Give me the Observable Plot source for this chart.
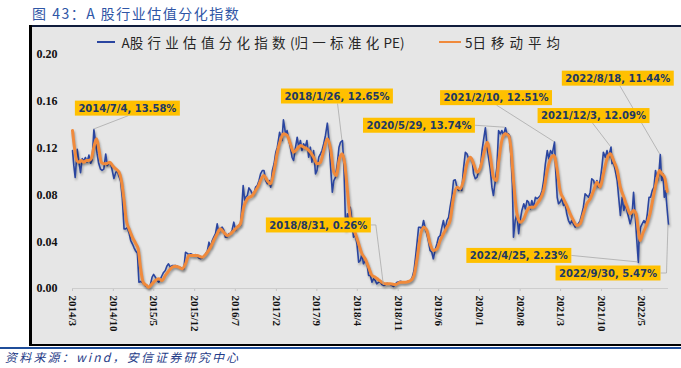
<!DOCTYPE html>
<html><head><meta charset="utf-8">
<script src="https://cdn.jsdelivr.net/npm/d3@7"></script>
<script src="https://cdn.jsdelivr.net/npm/@observablehq/plot@0.6"></script>
<style>
body{margin:0;width:681px;height:368px;position:relative;background:#fff;overflow:hidden;font-family:"Noto Sans CJK SC",sans-serif}
#title{position:absolute;left:32px;top:3px;font-size:14px;letter-spacing:1.5px;color:#2f56a6;line-height:20px;white-space:nowrap}
#chart{position:absolute;left:30px;top:26px;width:651px;height:319px}
.hl{position:absolute}
#legend{position:absolute;left:0;top:32px;width:681px;height:20px;font-size:13.5px;color:#262626;line-height:20px}
#legend .sw{position:absolute}
#legend .tx{position:absolute;top:0;white-space:nowrap}
#source{position:absolute;left:5px;top:349px;font-size:12px;font-style:italic;color:#1f3c88;letter-spacing:2.2px;white-space:nowrap;line-height:16px}
g[aria-label^="x-axis"] text{font:bold 11px "Liberation Serif",serif;fill:#111}
g[aria-label^="y-axis"] text{font:bold 12px "Liberation Serif",serif;fill:#111}
g[aria-label^="x-axis"] path,g[aria-label^="x-axis"] line{stroke:#c4c4c4}
</style>
</head><body>
<div id="title">图 43：A 股行业估值分化指数</div>
<div id="chart"></div>
<div class="hl" style="left:30px;top:25px;width:651px;height:2px;background:#101c3c"></div>
<div class="hl" style="left:29px;top:25px;width:3px;height:321px;background:#000"></div>
<div class="hl" style="left:30px;top:344px;width:651px;height:2px;background:#000"></div>
<div class="hl" style="left:0;top:347px;width:681px;height:2px;background:#1f4e9a"></div>
<div id="legend"></div>
<div id="source">资料来源：wind，安信证券研究中心</div>
<script>
// A股行业估值分化指数 (归一标准化PE)
const indexSeries = [
["2014-03-14",0.118],["2014-03-21",0.105],["2014-03-28",0.095],["2014-04-08",0.119],["2014-04-16",0.109],["2014-04-25",0.099],["2014-05-04",0.111],["2014-05-12",0.109],["2014-05-21",0.112],["2014-05-29",0.108],["2014-06-08",0.114],["2014-06-17",0.107],["2014-06-25",0.110],["2014-07-04",0.1358],["2014-07-12",0.1265],["2014-07-21",0.115],["2014-07-29",0.107],["2014-08-08",0.102],["2014-08-16",0.101],["2014-08-25",0.102],["2014-09-04",0.115],["2014-09-12",0.105],["2014-09-20",0.107],["2014-09-29",0.107],["2014-10-08",0.101],["2014-10-17",0.094],["2014-10-26",0.099],["2014-11-04",0.101],["2014-11-12",0.096],["2014-11-21",0.092],["2014-11-30",0.077],["2014-12-09",0.051],["2014-12-18",0.051],["2014-12-26",0.052],
["2015-01-05",0.047],["2015-01-13",0.041],["2015-01-22",0.038],["2015-01-30",0.035],["2015-02-08",0.032],["2015-02-17",0.030],["2015-02-25",0.0054],["2015-03-05",0.006],["2015-03-13",0.0054],["2015-03-22",0.004],["2015-03-30",0.0026],["2015-04-08",0.0017],["2015-04-17",0.0011],["2015-04-25",0.0026],["2015-05-05",0.0097],["2015-05-13",0.012],["2015-05-22",0.0097],["2015-05-31",0.007],["2015-06-09",0.0054],["2015-06-17",0.008],["2015-06-26",0.0111],["2015-07-04",0.0137],["2015-07-13",0.0154],["2015-07-21",0.019],["2015-07-30",0.0211],["2015-08-09",0.018],["2015-08-18",0.0197],["2015-08-27",0.0197],["2015-09-05",0.0197],["2015-09-14",0.019],["2015-09-22",0.0182],["2015-10-01",0.018],["2015-10-10",0.0168],["2015-10-18",0.0168],["2015-10-27",0.031],["2015-11-05",0.030],["2015-11-14",0.029],["2015-11-23",0.0297],["2015-12-01",0.029],["2015-12-10",0.028],["2015-12-19",0.029],["2015-12-27",0.0282],
["2016-01-05",0.026],["2016-01-14",0.0254],["2016-01-22",0.026],["2016-02-01",0.028],["2016-02-10",0.0297],["2016-02-18",0.032],["2016-02-27",0.0396],["2016-03-06",0.0353],["2016-03-15",0.041],["2016-03-23",0.044],["2016-04-01",0.0468],["2016-04-10",0.0553],["2016-04-18",0.0481],["2016-04-27",0.051],["2016-05-06",0.0524],["2016-05-14",0.050],["2016-05-23",0.0438],["2016-06-01",0.044],["2016-06-10",0.047],["2016-06-19",0.0468],["2016-06-27",0.050],["2016-07-06",0.0567],["2016-07-15",0.0496],["2016-07-23",0.052],["2016-08-01",0.054],["2016-08-10",0.0538],["2016-08-19",0.0752],["2016-08-24",0.0880],["2016-09-01",0.0752],["2016-09-06",0.078],["2016-09-15",0.0795],["2016-09-23",0.086],["2016-10-02",0.0838],["2016-10-11",0.0809],["2016-10-19",0.0809],["2016-10-28",0.0866],["2016-11-06",0.088],["2016-11-15",0.0923],["2016-11-23",0.098],["2016-12-03",0.1009],["2016-12-11",0.1009],["2016-12-20",0.0923],["2016-12-29",0.0895],
["2017-01-07",0.0923],["2017-01-15",0.0866],["2017-01-24",0.1009],["2017-02-02",0.1066],["2017-02-11",0.1165],["2017-02-19",0.1208],["2017-03-03",0.1336],["2017-03-15",0.1265],["2017-03-23",0.1442],["2017-04-03",0.1322],["2017-04-11",0.135],["2017-04-19",0.1279],["2017-04-28",0.1208],["2017-05-07",0.1122],["2017-05-15",0.1094],["2017-05-24",0.1194],["2017-06-03",0.1293],["2017-06-11",0.1208],["2017-06-20",0.1265],["2017-06-28",0.1179],["2017-07-07",0.1237],["2017-07-15",0.1208],["2017-07-24",0.1265],["2017-08-02",0.1122],["2017-08-11",0.1208],["2017-08-19",0.1079],["2017-08-28",0.1179],["2017-09-07",0.098],["2017-09-15",0.1009],["2017-09-24",0.1122],["2017-10-03",0.1151],["2017-10-11",0.1179],["2017-10-20",0.1237],["2017-10-29",0.1308],["2017-11-08",0.1413],["2017-11-16",0.1279],["2017-11-25",0.1037],["2017-12-04",0.0823],["2017-12-12",0.0923],["2017-12-21",0.0951],["2017-12-30",0.1066],
["2018-01-08",0.1208],["2018-01-16",0.125],["2018-01-26",0.1265],["2018-02-03",0.1037],["2018-02-12",0.0496],["2018-02-21",0.0638],["2018-02-27",0.0609],["2018-03-08",0.0695],["2018-03-16",0.0581],["2018-03-25",0.0438],["2018-04-04",0.0453],["2018-04-12",0.0382],["2018-04-21",0.0225],["2018-04-30",0.0239],["2018-05-08",0.0297],["2018-05-16",0.0211],["2018-05-25",0.0239],["2018-06-04",0.0211],["2018-06-12",0.0111],["2018-06-21",0.0111],["2018-06-30",0.0054],["2018-07-08",0.0083],["2018-07-17",0.0068],["2018-07-25",0.004],["2018-08-04",0.0054],["2018-08-13",0.0054],["2018-08-21",0.0034],["2018-08-31",0.0026],["2018-09-08",0.0032],["2018-09-16",0.0045],["2018-10-04",0.0034],["2018-10-21",0.0017],["2018-10-31",0.004],["2018-11-09",0.0054],["2018-11-26",0.0062],["2018-12-13",0.0054],["2018-12-31",0.006],
["2019-01-18",0.0068],["2019-01-27",0.0097],["2019-02-05",0.0154],["2019-02-13",0.0268],["2019-02-22",0.041],["2019-03-01",0.0524],["2019-03-09",0.0524],["2019-03-18",0.051],["2019-03-27",0.0581],["2019-04-05",0.051],["2019-04-13",0.0468],["2019-04-22",0.040],["2019-04-30",0.0325],["2019-05-09",0.031],["2019-05-17",0.0254],["2019-05-26",0.0325],["2019-06-05",0.0382],["2019-06-13",0.0438],["2019-06-22",0.0453],["2019-07-01",0.0524],["2019-07-09",0.0581],["2019-07-18",0.0496],["2019-07-27",0.0581],["2019-08-05",0.0609],["2019-08-13",0.0695],["2019-08-22",0.078],["2019-08-31",0.0923],["2019-09-09",0.0929],["2019-09-18",0.0866],["2019-09-26",0.0838],["2019-10-05",0.0852],["2019-10-13",0.0838],["2019-10-22",0.1023],["2019-11-01",0.1165],["2019-11-09",0.1151],["2019-11-18",0.1109],["2019-11-27",0.1122],["2019-12-06",0.1109],["2019-12-14",0.098],["2019-12-23",0.0938],
["2020-01-01",0.0951],["2020-01-10",0.1009],["2020-01-19",0.1037],["2020-01-27",0.1179],["2020-02-05",0.1279],["2020-02-14",0.1374],["2020-02-23",0.1208],["2020-03-01",0.1122],["2020-03-10",0.1023],["2020-03-19",0.0866],["2020-03-27",0.0795],["2020-04-06",0.0923],["2020-04-14",0.1037],["2020-04-23",0.135],["2020-05-02",0.1322],["2020-05-10",0.135],["2020-05-19",0.1308],["2020-05-29",0.1374],["2020-06-06",0.1322],["2020-06-14",0.1322],["2020-06-19",0.1308],["2020-06-26",0.1151],["2020-07-04",0.0895],["2020-07-10",0.0438],["2020-07-19",0.0581],["2020-07-28",0.0638],["2020-08-06",0.0468],["2020-08-14",0.0581],["2020-08-23",0.0667],["2020-09-02",0.0724],["2020-09-10",0.0681],["2020-09-19",0.0752],["2020-09-27",0.0738],["2020-10-06",0.0681],["2020-10-14",0.0752],["2020-10-23",0.0695],["2020-11-02",0.078],["2020-11-10",0.0767],["2020-11-19",0.078],["2020-11-28",0.0795],["2020-12-07",0.0838],["2020-12-15",0.0923],["2020-12-24",0.1066],
["2021-01-03",0.1179],["2021-01-11",0.1109],["2021-01-20",0.1179],["2021-01-29",0.1151],["2021-02-10",0.1251],["2021-02-15",0.1037],["2021-02-24",0.078],["2021-03-03",0.0724],["2021-03-11",0.0738],["2021-03-20",0.0767],["2021-03-29",0.0709],["2021-04-07",0.0724],["2021-04-15",0.0638],["2021-04-24",0.0581],["2021-05-03",0.0553],["2021-05-11",0.0581],["2021-05-20",0.0553],["2021-05-29",0.0524],["2021-06-07",0.0538],["2021-06-15",0.0553],["2021-06-24",0.0581],["2021-07-03",0.0638],["2021-07-11",0.0695],["2021-07-20",0.0809],["2021-07-29",0.0795],["2021-08-07",0.078],["2021-08-16",0.0823],["2021-08-24",0.0938],["2021-09-03",0.0923],["2021-09-11",0.0866],["2021-09-20",0.0923],["2021-09-28",0.0866],["2021-10-07",0.0923],["2021-10-16",0.1037],["2021-10-24",0.1165],["2021-11-03",0.1122],["2021-11-12",0.1179],["2021-11-20",0.1122],["2021-12-03",0.1209],["2021-12-08",0.1066],["2021-12-16",0.1079],["2021-12-25",0.1009],
["2022-01-04",0.0923],["2022-01-12",0.078],["2022-01-21",0.0624],["2022-01-30",0.078],["2022-02-08",0.0667],["2022-02-17",0.0724],["2022-02-26",0.0652],["2022-03-05",0.0609],["2022-03-13",0.0553],["2022-03-22",0.0609],["2022-03-31",0.0823],["2022-04-08",0.0638],["2022-04-17",0.041],["2022-04-25",0.0223],["2022-04-29",0.0438],["2022-05-07",0.0524],["2022-05-15",0.0553],["2022-05-24",0.0581],["2022-06-03",0.0553],["2022-06-11",0.0638],["2022-06-20",0.078],["2022-06-28",0.078],["2022-07-07",0.0838],["2022-07-16",0.0866],["2022-07-24",0.1009],["2022-08-03",0.0923],["2022-08-10",0.097],["2022-08-18",0.1144],["2022-08-25",0.0923],["2022-09-01",0.098],["2022-09-08",0.078],["2022-09-15",0.0838],["2022-09-22",0.0695],["2022-09-30",0.0547]
];
// 5日移动平均
const ma5Series = [
["2014-03-14",0.135],["2014-03-24",0.1208],["2014-04-05",0.1094],["2014-04-16",0.1079],["2014-04-29",0.1094],["2014-05-12",0.1079],["2014-05-26",0.1094],["2014-06-08",0.1094],["2014-06-20",0.1109],["2014-07-04",0.1208],["2014-07-18",0.1279],["2014-07-30",0.1194],["2014-08-12",0.1079],["2014-08-25",0.1066],["2014-09-13",0.1071],["2014-09-26",0.1079],["2014-10-09",0.1051],["2014-10-26",0.1023],["2014-11-13",0.0994],["2014-11-25",0.0923],["2014-12-09",0.0752],["2014-12-21",0.0581],
["2015-01-04",0.051],["2015-01-22",0.0438],["2015-02-09",0.0382],["2015-02-21",0.0339],["2015-03-05",0.0182],["2015-03-19",0.0054],["2015-04-06",0.0026],["2015-04-17",0.0011],["2015-05-05",0.004],["2015-05-22",0.0068],["2015-06-09",0.0083],["2015-06-26",0.0068],["2015-07-13",0.0111],["2015-07-30",0.0148],["2015-08-18",0.0182],["2015-09-05",0.0191],["2015-09-22",0.0182],["2015-10-10",0.0168],["2015-10-27",0.0211],["2015-11-14",0.0282],["2015-12-01",0.0282],["2015-12-27",0.0282],
["2016-01-22",0.0268],["2016-02-18",0.031],["2016-03-06",0.0353],["2016-03-23",0.041],["2016-04-10",0.0468],["2016-04-27",0.051],["2016-05-14",0.0481],["2016-06-02",0.0453],["2016-06-19",0.0468],["2016-07-06",0.0496],["2016-07-23",0.0524],["2016-08-10",0.0553],["2016-08-27",0.0695],["2016-09-15",0.0767],["2016-10-11",0.0795],["2016-10-28",0.0838],["2016-11-15",0.0889],["2016-11-23",0.0923],["2016-12-11",0.0966],["2016-12-28",0.0923],
["2017-01-15",0.0895],["2017-02-02",0.1009],["2017-02-19",0.1165],["2017-03-07",0.1265],["2017-03-23",0.1322],["2017-04-11",0.1308],["2017-04-28",0.1237],["2017-05-15",0.1165],["2017-06-03",0.1194],["2017-06-20",0.1222],["2017-07-07",0.1208],["2017-07-24",0.1194],["2017-08-11",0.1165],["2017-08-28",0.1122],["2017-09-15",0.1066],["2017-10-03",0.1079],["2017-10-20",0.1179],["2017-11-08",0.1279],["2017-11-25",0.1194],["2017-12-12",0.0994],["2017-12-26",0.0966],
["2018-01-08",0.1094],["2018-01-25",0.1151],["2018-02-07",0.1066],["2018-02-21",0.0838],["2018-03-05",0.0638],["2018-03-16",0.0553],["2018-04-04",0.0468],["2018-04-21",0.0382],["2018-05-08",0.0297],["2018-05-25",0.0254],["2018-06-12",0.0182],["2018-06-30",0.0111],["2018-07-17",0.0097],["2018-08-04",0.0074],["2018-08-21",0.0054],["2018-09-08",0.004],["2018-10-04",0.004],["2018-10-31",0.0034],["2018-11-26",0.0054],["2018-12-22",0.0054],
["2019-01-18",0.0068],["2019-02-05",0.0111],["2019-02-22",0.0268],["2019-03-09",0.0438],["2019-03-27",0.0524],["2019-04-13",0.0496],["2019-04-30",0.0382],["2019-05-17",0.0325],["2019-06-05",0.0339],["2019-06-22",0.041],["2019-07-09",0.0468],["2019-07-27",0.0524],["2019-08-13",0.0581],["2019-08-31",0.078],["2019-09-18",0.0866],["2019-10-05",0.0852],["2019-10-22",0.0923],["2019-11-09",0.1066],["2019-11-27",0.1122],["2019-12-14",0.1066],
["2020-01-01",0.0994],["2020-01-19",0.1037],["2020-02-05",0.1151],["2020-02-23",0.125],["2020-03-10",0.1137],["2020-03-27",0.0951],["2020-04-11",0.0923],["2020-04-23",0.1079],["2020-05-10",0.1265],["2020-05-27",0.1322],["2020-06-14",0.1308],["2020-06-26",0.1208],["2020-07-10",0.0923],["2020-07-28",0.0638],["2020-08-14",0.0567],["2020-09-02",0.0596],["2020-09-19",0.0667],["2020-10-06",0.0695],["2020-10-23",0.0695],["2020-11-10",0.0724],["2020-11-28",0.0767],["2020-12-15",0.0838],
["2021-01-03",0.1009],["2021-01-20",0.1109],["2021-02-07",0.1137],["2021-02-24",0.1009],["2021-03-11",0.0838],["2021-03-29",0.0767],["2021-04-15",0.0709],["2021-05-03",0.0638],["2021-05-20",0.0581],["2021-06-07",0.0538],["2021-06-24",0.0553],["2021-07-11",0.0638],["2021-07-29",0.0724],["2021-08-16",0.0767],["2021-09-03",0.0838],["2021-09-20",0.0909],["2021-10-07",0.0866],["2021-10-24",0.098],["2021-11-12",0.1109],["2021-11-29",0.1151],["2021-12-16",0.1094],
["2022-01-04",0.1009],["2022-01-21",0.0866],["2022-02-08",0.078],["2022-02-26",0.0695],["2022-03-13",0.0638],["2022-03-31",0.0667],["2022-04-13",0.0638],["2022-04-25",0.0496],["2022-05-04",0.041],["2022-05-18",0.0468],["2022-06-05",0.0538],["2022-06-25",0.0638],["2022-07-12",0.078],["2022-07-30",0.0923],["2022-08-13",0.1009],["2022-08-26",0.098],["2022-09-09",0.0951],["2022-09-23",0.083]
];
const seriesNames = ["A股行业估值分化指数(归一标准化PE)", "5日移动平均"];
const seriesColors = ["#2a45a0", "#f08a3c"];
const xTickLabels = ["2014/3","2014/10","2015/5","2015/12","2016/7","2017/2","2017/9","2018/4","2018/11","2019/6","2020/1","2020/8","2021/3","2021/10","2022/5"];
const yTickValues = [0, 0.04, 0.08, 0.12, 0.16, 0.20];
const annDates = ["2014-07-04","2018-01-26","2020-05-29","2021-02-10","2021-12-03","2022-08-18","2018-08-31","2022-04-25","2022-09-30"];
const annValues = [0.1358, 0.1265, 0.1374, 0.1251, 0.1209, 0.1144, 0.0026, 0.0223, 0.0547];

// layout of annotation boxes (pixel offsets of box centre from the data point)
const annLayout = [
  {dx: 34, dy: -21, from: "bottom", ox: 1},
  {dx: -5, dy: -44, from: "bottom", ox: 0.6},
  {dx: -86, dy: -2, from: "right"},
  {dx: -58, dy: -44, from: "bottom", ox: 0.5},
  {dx: -17, dy: -31, from: "bottom", ox: -1},
  {dx: -42, dy: -76, from: "bottom", ox: 2},
  {dx: -65, dy: -60, from: "right", elbow: 5},
  {dx: -119, dy: -6.5, from: "right"},
  {dx: -60, dy: 49, from: "right", elbow: 6}
];

const parse = d3.utcParse("%Y-%m-%d");
const blue = indexSeries.map(([d, v]) => ({date: parse(d), value: v}));
const orange = ma5Series.map(([d, v]) => ({date: parse(d), value: v}));
const xTicks = xTickLabels.map(s => { const [y, m] = s.split("/").map(Number); return new Date(Date.UTC(y, m - 1, 14)); });

function annotations(index, scales) {
  const g = d3.create("svg:g").attr("aria-label", "annotations");
  const ctx = document.createElement("canvas").getContext("2d");
  ctx.font = "bold 10px 'DejaVu Sans'";
  const leaders = g.append("g"), boxes = g.append("g");
  annDates.forEach((ds, i) => {
    const d = parse(ds), v = annValues[i], L = annLayout[i];
    const ax = scales.x(d), ay = scales.y(v);
    const cx = ax + L.dx, cy = ay + L.dy;
    const label = `${d.getUTCFullYear()}/${d.getUTCMonth() + 1}/${d.getUTCDate()}, ${(v * 100).toFixed(2)}%`;
    const w = ctx.measureText(label).width + 7, h = 15;
    const start = L.from === "bottom" ? [cx + (L.ox || 0), cy + h / 2] : [cx + w / 2, cy];
    const pts = [start];
    if (L.elbow) pts.push([start[0] + L.elbow, start[1]]);
    pts.push([ax, ay]);
    leaders.append("polyline").attr("points", pts.map(p => p.join(",")).join(" "))
      .attr("fill", "none").attr("stroke", "#a9a9a9").attr("stroke-width", 0.8);
    boxes.append("rect").attr("x", cx - w / 2).attr("y", cy - h / 2).attr("width", w).attr("height", h).attr("fill", "#ffc000");
    boxes.append("text").attr("x", cx).attr("y", cy).attr("dy", "0.36em").attr("text-anchor", "middle")
      .attr("fill", "#203864").style("font", "bold 10px 'DejaVu Sans'").text(label);
  });
  return g.node();
}

const chart = Plot.plot({
  width: 651, height: 319,
  marginLeft: 42, marginRight: 13, marginTop: 28, marginBottom: 57,
  style: {background: "#e6e6e6", overflow: "visible", fontFamily: "'Liberation Serif', serif"},
  x: {type: "utc", domain: [parse("2014-03-14"), parse("2022-09-30")], ticks: xTicks,
      tickFormat: d => `${d.getUTCFullYear()}/${d.getUTCMonth() + 1}`, tickRotate: 90, tickSize: 3, tickPadding: 4, label: null},
  y: {domain: [0, 0.2], ticks: yTickValues, tickFormat: d => d.toFixed(2), tickSize: 0, tickPadding: 15, label: null},
  marks: [
    Plot.ruleY([0], {stroke: "#cdcdcd"}),
    Plot.line(blue, {x: "date", y: "value", stroke: seriesColors[0], strokeWidth: 1.6}),
    Plot.line(orange, {x: "date", y: "value", stroke: seriesColors[1], strokeWidth: 3, curve: "monotone-x"}),
    annotations
  ]
});
document.getElementById("chart").appendChild(chart);
chart.querySelectorAll('g[aria-label="line"]').forEach(g => { g.style.filter = "drop-shadow(1px 2px 1.2px rgba(0,0,0,0.3))"; });

// legend
function spaced(text, ls) {
  return text.replace(/([\u3400-\u9fff]+)/g, `<span style="letter-spacing:${ls}px">$1</span>`);
}
const legendLayout = [
  {swLeft: 97, swWidth: 18, swH: 1.6, txLeft: 121.5, ls: 4.3},
  {swLeft: 439, swWidth: 22, swH: 2.6, txLeft: 465, ls: 5}
];
const legend = document.getElementById("legend");
seriesNames.forEach((name, i) => {
  const L = legendLayout[i];
  const sw = document.createElement("div");
  sw.className = "sw";
  sw.style.cssText = `left:${L.swLeft}px;top:${10 - L.swH / 2}px;width:${L.swWidth}px;height:${L.swH}px;background:${seriesColors[i]}`;
  legend.appendChild(sw);
  const tx = document.createElement("div");
  tx.className = "tx";
  tx.style.left = L.txLeft + "px";
  tx.innerHTML = spaced(name, L.ls);
  legend.appendChild(tx);
});
</script>
</body></html>
